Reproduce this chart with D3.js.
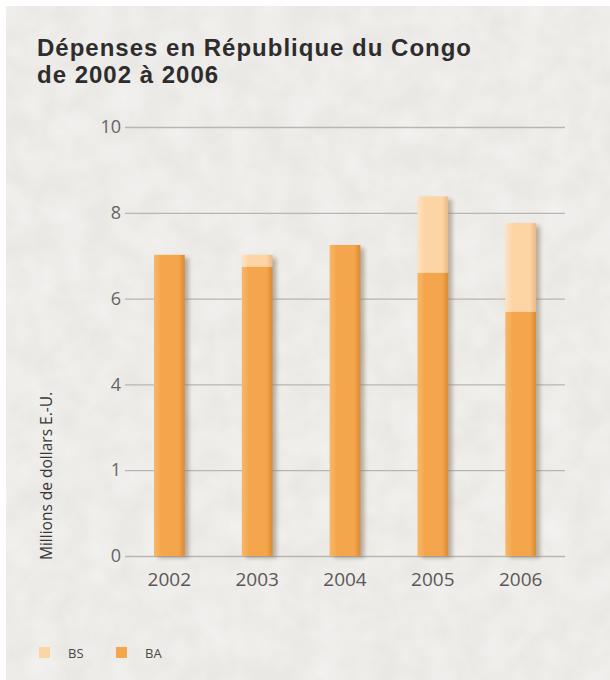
<!DOCTYPE html>
<html>
<head>
<meta charset="utf-8">
<script src="https://cdn.jsdelivr.net/npm/d3@7"></script>
<style>
  body { margin: 0; background: #fff; }
  svg { display: block; }
</style>
</head>
<body>
<div id="chart"></div>
<script>
var years = ["2002", "2003", "2004", "2005", "2006"];
var ba = [7.02, 6.74, 7.25, 6.6, 5.69];
var bs = [0, 0.28, 0, 1.78, 2.07];
var tickValues = [0, 2, 4, 6, 8, 10];
var tickLabels = ["0", "1", "4", "6", "8", "10"];
var seriesNames = ["BS", "BA"];

var width = 610, height = 680;
var margin = { top: 127, right: 45, bottom: 124, left: 125 };

var svg = d3.select("#chart").append("svg")
  .attr("width", width)
  .attr("height", height);

var defs = svg.append("defs");

// paper texture
var tex = defs.append("filter").attr("id", "paper")
  .attr("x", 0).attr("y", 0).attr("width", "100%").attr("height", "100%");
tex.append("feTurbulence").attr("type", "fractalNoise")
  .attr("baseFrequency", 0.035).attr("numOctaves", 3).attr("seed", 4).attr("result", "n");
tex.append("feColorMatrix").attr("type", "matrix")
  .attr("values", "0 0 0 0 1  0 0 0 0 1  0 0 0 0 1  0.6 0 0 0 -0.15")
  .attr("result", "w");
tex.append("feComposite").attr("in", "w").attr("in2", "SourceGraphic").attr("operator", "over");

function barGrad(id, light, mid, dark) {
  var g = defs.append("linearGradient").attr("id", id)
    .attr("x1", 0).attr("x2", 1).attr("y1", 0).attr("y2", 0);
  g.append("stop").attr("offset", "0%").attr("stop-color", light);
  g.append("stop").attr("offset", "25%").attr("stop-color", mid);
  g.append("stop").attr("offset", "80%").attr("stop-color", mid);
  g.append("stop").attr("offset", "100%").attr("stop-color", dark);
}
barGrad("gBA", "#f7b868", "#f5a54b", "#d98a36");
barGrad("gBS", "#fde3c2", "#fdd4a3", "#eab987");

var shadow = defs.append("filter").attr("id", "shadow")
  .attr("x", "-30%").attr("y", "-10%").attr("width", "160%").attr("height", "120%");
shadow.append("feGaussianBlur").attr("stdDeviation", 2);

svg.append("rect")
  .attr("x", 6).attr("y", 6)
  .attr("width", width - 6).attr("height", height - 6)
  .attr("fill", "#eae8e4")
  .attr("filter", "url(#paper)");

// title, two lines
var titleLines = ["Dépenses en République du Congo", "de 2002 à 2006"];
svg.append("g").selectAll("text")
  .data(titleLines)
  .join("text")
  .attr("x", 37)
  .attr("y", function(d, i) { return 56 + i * 27; })
  .attr("font-family", "'Liberation Sans', Arial, sans-serif")
  .attr("font-weight", "bold")
  .attr("font-size", 24)
  .attr("letter-spacing", 1)
  .attr("fill", "#2e2c2c")
  .text(function(d) { return d; });

var x = d3.scaleBand()
  .domain(years)
  .range([margin.left, width - margin.right])
  .paddingInner(0.65)
  .paddingOuter(0.33);

var y = d3.scaleLinear()
  .domain([0, 10])
  .range([height - margin.bottom, margin.top]);

// gridlines
var yAxis = d3.axisLeft(y)
  .tickValues(tickValues)
  .tickSize(-(width - margin.right - margin.left))
  .tickPadding(4)
  .tickFormat(function(d, i) { return tickLabels[i]; });

var ga = svg.append("g")
  .attr("transform", "translate(" + margin.left + ",0)")
  .call(yAxis);
ga.select(".domain").remove();
ga.selectAll(".tick line").attr("stroke", "#b9b6b1").attr("stroke-width", 1.3);
ga.selectAll(".tick text")
  .attr("font-family", "'Open Sans', sans-serif")
  .attr("font-size", 18)
  .attr("fill", "#666464");

var xAxis = d3.axisBottom(x).tickSize(0).tickPadding(17);
var gx = svg.append("g")
  .attr("transform", "translate(0," + y(0) + ")")
  .call(xAxis);
gx.select(".domain").remove();
gx.selectAll(".tick text")
  .attr("font-family", "'Open Sans', sans-serif")
  .attr("font-size", 19)
  .attr("fill", "#5a5858");

// stacked data
var rows = years.map(function(yr, i) { return { year: yr, BA: ba[i], BS: bs[i] }; });
var stack = d3.stack().keys(["BA", "BS"])(rows);

// shadows
svg.append("g").selectAll("rect")
  .data(rows)
  .join("rect")
  .attr("x", function(d) { return x(d.year) + 4; })
  .attr("y", function(d) { return y(d.BA + d.BS) + 3; })
  .attr("width", x.bandwidth())
  .attr("height", function(d) { return y(0) - y(d.BA + d.BS) - 1; })
  .attr("fill", "#8a7a68")
  .attr("opacity", 0.55)
  .attr("filter", "url(#shadow)");

var fills = { BA: "url(#gBA)", BS: "url(#gBS)" };
svg.append("g").selectAll("g")
  .data(stack)
  .join("g")
  .attr("fill", function(s) { return fills[s.key]; })
  .selectAll("rect")
  .data(function(s) { return s.filter(function(d) { return d[1] - d[0] > 0; }); })
  .join("rect")
  .attr("x", function(d) { return x(d.data.year); })
  .attr("y", function(d) { return y(d[1]); })
  .attr("width", x.bandwidth())
  .attr("height", function(d) { return y(d[0]) - y(d[1]); });

// y title
svg.append("text")
  .attr("transform", "translate(52," + (y(0) + 4) + ") rotate(-90)")
  .attr("text-anchor", "start")
  .attr("font-family", "'Open Sans', sans-serif")
  .attr("font-size", 15.5)
  .attr("fill", "#3a3838")
  .text("Millions de dollars E.-U.");

// legend
var legendColors = { BS: "#fdd4a3", BA: "#f5a54b" };
var lg = svg.append("g").selectAll("g")
  .data(seriesNames)
  .join("g")
  .attr("transform", function(d, i) { return "translate(" + (39 + i * 77) + ",647)"; });
lg.append("rect")
  .attr("width", 11).attr("height", 11)
  .attr("fill", function(d) { return legendColors[d]; });
lg.append("text")
  .attr("x", 29).attr("y", 11)
  .attr("font-family", "'Open Sans', sans-serif")
  .attr("font-size", 13)
  .attr("fill", "#4a4848")
  .text(function(d) { return d; });
</script>
</body>
</html>
